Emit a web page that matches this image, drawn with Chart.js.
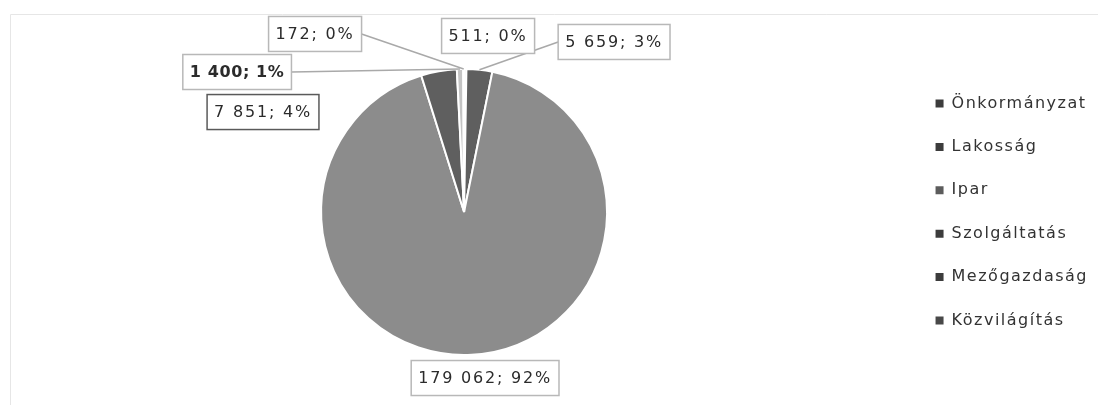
<!DOCTYPE html>
<html><head><meta charset="utf-8">
<script src="https://cdn.jsdelivr.net/npm/chart.js@4/dist/chart.umd.min.js"></script>
<style>html,body{margin:0;padding:0;background:#fff;}#wrap{width:1098px;height:405px;position:relative;}</style>
</head><body><div id="wrap"><canvas id="c" width="1098" height="405"></canvas></div>
<script>
// ---- data ----
const categories = ['Önkormányzat', 'Lakosság', 'Ipar', 'Szolgáltatás', 'Mezőgazdaság', 'Közvilágítás'];
const values = [511, 5659, 179062, 7851, 1400, 172];

// ---- styles / layout ----
const sliceColors = ['#d4d4d4', '#5f5f5f', '#8c8c8c', '#5f5f5f', '#c4c4c4', '#d4d4d4'];
const legendColors = ['#3c3c3c', '#3c3c3c', '#5c5c5c', '#3c3c3c', '#3c3c3c', '#484848'];
// label box centres, relative to pie centre in units of radius
const labelOffsets = [[0.168, -1.231], [1.049, -1.189], [0.147, 1.161], [-1.406, -0.699], [-1.587, -0.979], [-1.042, -1.245]];
const labelLeader = [false, true, false, false, true, true];
const labelBold = [false, false, false, false, true, false];
const labelBorder = ['#b8b8b8', '#b8b8b8', '#b8b8b8', '#5a5a5a', '#b8b8b8', '#b8b8b8'];

const total = values.reduce((a, b) => a + b, 0);
function fmt(v) { return String(v).replace(/\B(?=(\d{3})+(?!\d))/g, ' '); }
const labelTexts = values.map(v => fmt(v) + '; ' + Math.round(v / total * 100) + '%');

const LABEL_FONT = '16px "DejaVu Sans"';
function labelFont(i) { return (labelBold[i] ? 'bold ' : '') + LABEL_FONT; }
function labelLS(i) { return labelBold[i] ? '0.6px' : '1.8px'; }

const labelPlugin = {
  id: 'boxLabels',
  afterDatasetsDraw(chart) {
    const ctx = chart.ctx;
    const meta = chart.getDatasetMeta(0);
    const boxes = [];
    meta.data.forEach((arc, i) => {
      const p = arc.getProps(['x', 'y', 'startAngle', 'endAngle', 'outerRadius'], true);
      const r = p.outerRadius;
      const bx = p.x + labelOffsets[i][0] * r;
      const by = p.y + labelOffsets[i][1] * r;
      ctx.save();
      ctx.font = labelFont(i);
      ctx.letterSpacing = labelLS(i);
      const tw = ctx.measureText(labelTexts[i]).width;
      ctx.restore();
      const w = tw + 14, h = 35;
      const mid = (p.startAngle + p.endAngle) / 2;
      const tx = p.x + Math.cos(mid) * r, ty = p.y + Math.sin(mid) * r;
      boxes.push({ i, bx, by, w, h, tx, ty });
    });
    boxes.forEach(b => {
      if (!labelLeader[b.i]) return;
      let sx, sy;
      if (b.tx > b.bx + b.w / 2) { sx = b.bx + b.w / 2; sy = b.by; }
      else if (b.tx < b.bx - b.w / 2) { sx = b.bx - b.w / 2; sy = b.by; }
      else { sx = b.bx; sy = b.ty > b.by ? b.by + b.h / 2 : b.by - b.h / 2; }
      ctx.save();
      ctx.strokeStyle = '#a9a9a9';
      ctx.lineWidth = 1.5;
      ctx.beginPath(); ctx.moveTo(sx, sy); ctx.lineTo(b.tx, b.ty); ctx.stroke();
      ctx.restore();
    });
    boxes.forEach(b => {
      ctx.save();
      ctx.fillStyle = '#ffffff';
      ctx.strokeStyle = labelBorder[b.i];
      ctx.lineWidth = 1.5;
      ctx.fillRect(b.bx - b.w / 2, b.by - b.h / 2, b.w, b.h);
      ctx.strokeRect(b.bx - b.w / 2, b.by - b.h / 2, b.w, b.h);
      ctx.font = labelFont(b.i);
      ctx.letterSpacing = labelLS(b.i);
      ctx.fillStyle = '#2b2b2b';
      ctx.textAlign = 'left';
      ctx.textBaseline = 'middle';
      ctx.fillText(labelTexts[b.i], b.bx - b.w / 2 + 7, b.by + 1);
      ctx.restore();
    });
  }
};

const framePlugin = {
  id: 'frame',
  beforeUpdate(chart) { chart.ctx.letterSpacing = '1.5px'; },
  beforeDraw(chart) {
    const ctx = chart.ctx;
    ctx.letterSpacing = '1.5px';
    ctx.save();
    ctx.fillStyle = '#ffffff';
    ctx.fillRect(0, 0, chart.width, chart.height);
    ctx.strokeStyle = '#e6e6e6';
    ctx.lineWidth = 1;
    ctx.beginPath();
    ctx.moveTo(10.5, chart.height); ctx.lineTo(10.5, 14.5); ctx.lineTo(chart.width, 14.5);
    ctx.stroke();
    ctx.restore();
  }
};

const baseGen = Chart.overrides.pie.plugins.legend.labels.generateLabels;

new Chart(document.getElementById('c').getContext('2d'), {
  type: 'pie',
  data: {
    labels: categories,
    datasets: [{
      data: values,
      backgroundColor: sliceColors,
      borderColor: '#ffffff',
      borderWidth: 2,
      hoverOffset: 0,
      offset: 0
    }]
  },
  options: {
    responsive: false,
    animation: false,
    events: [],
    layout: { padding: { top: 68, bottom: 49, left: 20, right: 0 } },
    plugins: {
      tooltip: { enabled: false },
      legend: {
        position: 'right',
        labels: {
          font: { family: 'DejaVu Sans', size: 16 },
          color: '#333333',
          boxWidth: 8,
          boxHeight: 8,
          padding: 27.4,
          generateLabels(chart) {
            return baseGen(chart).map((it, i) => Object.assign(it, {
              fillStyle: legendColors[i], strokeStyle: legendColors[i], lineWidth: 0
            }));
          }
        }
      }
    }
  },
  plugins: [framePlugin, labelPlugin]
});
</script></body></html>
